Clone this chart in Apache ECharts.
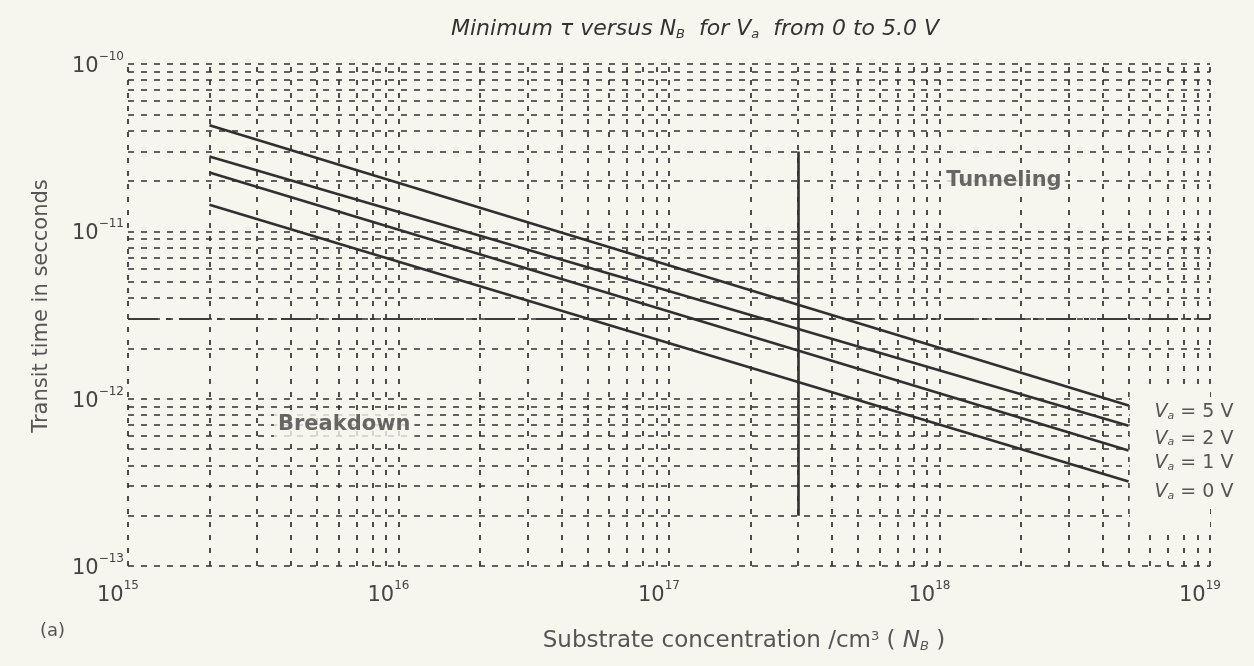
<!DOCTYPE html>
<html><head><meta charset="utf-8">
<script src="https://cdn.jsdelivr.net/npm/echarts@6/dist/echarts.min.js"></script>
<style>html,body{margin:0;padding:0;background:#f6f6ee}#c{width:1254px;height:666px}</style>
</head><body><div id="c"></div>
<script>
// ---- data ----
const xTickExponents = [15, 16, 17, 18, 19];
const yTickExponents = [-13, -12, -11, -10];
const gridMantissas = [1, 2, 3, 4, 5, 6, 7, 8, 9];
const concentration = [2e15, 5e18];          // N_B (/cm^3)
const voltages = [5, 2, 1, 0];               // V_a (V)
const tauVa5 = [4.3e-11, 9.1e-13];
const tauVa2 = [2.8e-11, 6.9e-13];
const tauVa1 = [2.25e-11, 4.9e-13];
const tauVa0 = [1.44e-11, 3.2e-13];
const refTau = 3e-12;                        // dash-dot horizontal line
const boundaryN = 3e17;                      // solid vertical line
const boundaryTau = [2e-13, 3e-11];
const annotationTexts = ['Tunneling', 'Breakdown'];
const annotationN = [1.73e18, 6.3e15];
const annotationTau = [2.0e-11, 7.0e-13];
const labelPanelN = [5.05e18, 1e19];
const labelPanelTau = [1.7e-13, 1.1e-12];

// ---- build ----
const BG = '#f6f6ee';
const INK = '#303030';
const FONT = 'DejaVu Sans';
const tauSeries = [tauVa5, tauVa2, tauVa1, tauVa0];
const labelOffsets = [[0, 7], [0, 13], [0, 13], [0, 11]];

function pow10(m, e) { return Number((m * Math.pow(10, e)).toPrecision(4)); }
const xGrid = [], yGrid = [];
for (let i = 0; i < xTickExponents.length - 1; i++)
  gridMantissas.forEach(m => xGrid.push(pow10(m, xTickExponents[i])));
xGrid.push(pow10(1, xTickExponents[xTickExponents.length - 1]));
for (let i = 0; i < yTickExponents.length - 1; i++)
  gridMantissas.forEach(m => yGrid.push(pow10(m, yTickExponents[i])));
yGrid.push(pow10(1, yTickExponents[yTickExponents.length - 1]));

const xMin = xGrid[0], xMax = xGrid[xGrid.length - 1];
const yMin = yGrid[0], yMax = yGrid[yGrid.length - 1];

const gridLines = [];
yGrid.forEach(v => gridLines.push([
  { coord: [xMin, v], lineStyle: { type: [6, 7], color: INK, width: 1.7 } },
  { coord: [xMax, v] }
]));
xGrid.forEach(v => gridLines.push([
  { coord: [v, yMin], lineStyle: { type: [5, 8], color: INK, width: 1.7 } },
  { coord: [v, yMax] }
]));

function expLabel(v) {
  const e = Math.round(Math.log10(v));
  return '{b|10}{s|' + String(e).replace('-', '\u2212') + '}';
}
const tickRich = {
  b: { fontSize: 21, fontFamily: FONT, color: '#444', verticalAlign: 'bottom', lineHeight: 26 },
  s: { fontSize: 12, fontFamily: FONT, color: '#444', verticalAlign: 'top', lineHeight: 26 }
};

const series = [];
series.push({
  type: 'line', data: [], silent: true, animation: false,
  markLine: { silent: true, symbol: 'none', animation: false, label: { show: false }, z: 5, data: gridLines },
  markArea: {
    silent: true, animation: false, z: 6, itemStyle: { color: BG },
    data: [[{ coord: [labelPanelN[0], labelPanelTau[1]] }, { coord: [labelPanelN[1], labelPanelTau[0]] }]]
  }
});
series.push({
  type: 'line', data: [], silent: true, animation: false,
  markLine: {
    silent: true, symbol: 'none', animation: false, label: { show: false }, z: 7,
    data: [
      [{ coord: [xMin, refTau], lineStyle: { type: [30, 8, 5, 8], color: '#3c3c3c', width: 2.2 } },
       { coord: [xMax, refTau] }],
      [{ coord: [boundaryN, boundaryTau[0]], lineStyle: { type: 'solid', color: INK, width: 2.6 } },
       { coord: [boundaryN, boundaryTau[1]] }]
    ]
  }
});
voltages.forEach((v, i) => {
  series.push({
    type: 'line', z: 10, animation: false, silent: true,
    symbol: 'none',
    lineStyle: { color: INK, width: 2.6 },
    data: concentration.map((n, j) => [n, tauSeries[i][j]]),
    endLabel: {
      show: true, distance: 4, offset: labelOffsets[i],
      formatter: '{i|V}{sub|a}{t| = ' + v + ' V}',
      backgroundColor: BG, padding: [3, 30, 3, 22],
      rich: {
        i: { fontSize: 19, fontFamily: FONT, fontStyle: 'italic', color: '#555' },
        sub: { fontSize: 11, fontFamily: FONT, fontStyle: 'italic', color: '#555', verticalAlign: 'bottom', padding: [6, 0, 0, 0] },
        t: { fontSize: 19, fontFamily: FONT, color: '#555' }
      }
    }
  });
});
series.push({
  type: 'scatter', z: 11, silent: true, animation: false, symbolSize: 0,
  data: annotationTexts.map((t, i) => ({ value: [annotationN[i], annotationTau[i]], name: t })),
  label: {
    show: true, position: 'inside', formatter: p => p.name,
    fontFamily: FONT, fontWeight: 'bold', fontSize: 21, color: '#444',
    backgroundColor: BG, padding: [3, 4]
  }
});

const chart = echarts.init(document.getElementById('c'), null, { renderer: 'canvas' });
chart.setOption({
  backgroundColor: BG,
  animation: false,
  title: {
    text: 'Minimum {g|\u03c4} versus {i|N}{sub|B}  for {i|V}{sub|a}  from 0 to 5.0 V',
    left: 446, top: 13,
    textStyle: {
      fontFamily: FONT, fontStyle: 'italic', fontWeight: 'normal', fontSize: 22, color: '#333',
      rich: {
        g: { fontFamily: FONT, fontStyle: 'italic', fontSize: 22, color: '#333' },
        i: { fontFamily: FONT, fontStyle: 'italic', fontSize: 22, color: '#333' },
        sub: { fontFamily: FONT, fontStyle: 'italic', fontSize: 13, color: '#333', verticalAlign: 'bottom', padding: [10, 0, 0, 0] }
      }
    }
  },
  graphic: [{ type: 'text', left: 40, top: 622, style: { text: '(a)', font: '18px "DejaVu Sans"', fill: '#555' } }],
  grid: { left: 128, right: 44, top: 64, bottom: 100 },
  xAxis: {
    type: 'log', logBase: 10, min: xMin, max: xMax,
    axisLine: { show: false }, axisTick: { show: false }, splitLine: { show: false },
    axisLabel: { formatter: expLabel, rich: tickRich, margin: 14, padding: [0, 20, 0, 0] },
    name: 'Substrate concentration /cm{sup|3} ( {i|N}{sub|B} )',
    nameLocation: 'middle', nameGap: 64,
    nameTextStyle: {
      fontFamily: FONT, fontSize: 23, color: '#555', padding: [0, 0, 0, 150],
      rich: {
        sup: { fontFamily: FONT, fontSize: 13, color: '#555', verticalAlign: 'top' },
        i: { fontFamily: FONT, fontStyle: 'italic', fontSize: 23, color: '#555' },
        sub: { fontFamily: FONT, fontStyle: 'italic', fontSize: 13, color: '#555', verticalAlign: 'bottom', padding: [9, 0, 0, 0] }
      }
    }
  },
  yAxis: {
    type: 'log', logBase: 10, min: yMin, max: yMax,
    axisLine: { show: false }, axisTick: { show: false }, splitLine: { show: false },
    axisLabel: { formatter: expLabel, rich: tickRich, margin: 4 },
    name: 'Transit time in secconds',
    nameLocation: 'middle', nameGap: 76, nameRotate: 90,
    nameTextStyle: { fontFamily: FONT, fontSize: 21, color: '#555', padding: [0, 0, 0, 18] }
  },
  series: series
});
</script></body></html>
